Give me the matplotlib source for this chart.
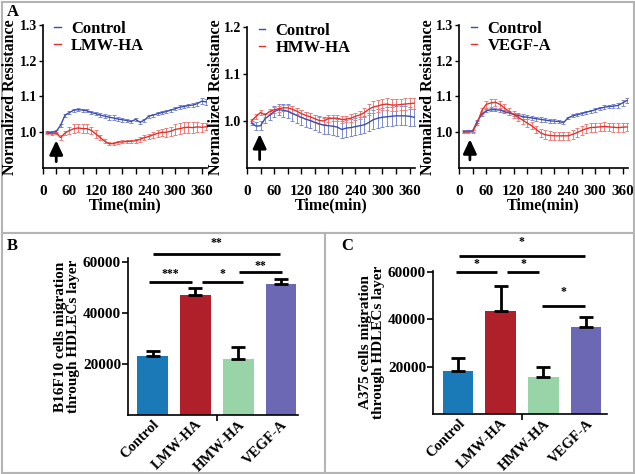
import matplotlib
matplotlib.use("Agg")
import matplotlib.pyplot as plt
from matplotlib.lines import Line2D
from matplotlib.ticker import MultipleLocator, FixedLocator

plt.rcParams['font.family'] = ['Liberation Serif', 'DejaVu Serif']
plt.rcParams['font.weight'] = 'bold'
plt.rcParams['axes.labelweight'] = 'bold'

# time course (min)
t = list(range(10, 371, 10))

ctrl1 = [1.000, 1.000, 1.002, 1.020, 1.048, 1.055, 1.062, 1.063, 1.062, 1.060,
         1.055, 1.052, 1.048, 1.045, 1.042, 1.040, 1.037, 1.035, 1.033, 1.030,
         1.036, 1.028, 1.034, 1.045, 1.048, 1.052, 1.055, 1.058, 1.062, 1.066,
         1.070, 1.072, 1.075, 1.076, 1.080, 1.087, 1.085]
ctrl1_err = [0.003, 0.003, 0.003, 0.004, 0.004, 0.004, 0.004, 0.004, 0.004, 0.004,
             0.005, 0.005, 0.006, 0.006, 0.007, 0.007, 0.006, 0.006, 0.005, 0.005,
             0.005, 0.004, 0.004, 0.004, 0.004, 0.004, 0.004, 0.004, 0.004, 0.005,
             0.005, 0.005, 0.005, 0.005, 0.006, 0.008, 0.008]
lmw = [0.998, 0.995, 0.998, 0.985, 0.998, 1.005, 1.010, 1.012, 1.010, 1.010,
       1.005, 0.995, 0.985, 0.975, 0.968, 0.968, 0.972, 0.973, 0.974, 0.975,
       0.976, 0.980, 0.985, 0.988, 0.993, 0.997, 1.000, 1.000, 1.003, 1.008,
       1.010, 1.013, 1.014, 1.013, 1.015, 1.014, 1.015]
lmw_err = [0.004, 0.004, 0.004, 0.006, 0.006, 0.010, 0.012, 0.012, 0.012, 0.012,
           0.010, 0.010, 0.008, 0.006, 0.005, 0.005, 0.004, 0.004, 0.004, 0.004,
           0.005, 0.006, 0.007, 0.008, 0.008, 0.009, 0.010, 0.012, 0.013, 0.015,
           0.015, 0.016, 0.016, 0.015, 0.015, 0.012, 0.010]

ctrl2 = [0.996, 0.989, 0.990, 1.005, 1.012, 1.020, 1.024, 1.023, 1.021, 1.016,
         1.012, 1.008, 1.004, 1.001, 0.997, 0.994, 0.991, 0.990, 0.989, 0.987,
         0.982, 0.985, 0.986, 0.988, 0.990, 0.992, 0.997, 1.003, 1.006, 1.008,
         1.009, 1.010, 1.011, 1.011, 1.011, 1.010, 1.008]
ctrl2_err = [0.005, 0.008, 0.010, 0.010, 0.010, 0.012, 0.012, 0.014, 0.015, 0.015,
             0.016, 0.016, 0.016, 0.016, 0.016, 0.017, 0.018, 0.018, 0.018, 0.018,
             0.018, 0.018, 0.018, 0.018, 0.018, 0.018, 0.019, 0.020, 0.020, 0.020,
             0.020, 0.020, 0.020, 0.020, 0.020, 0.020, 0.018]
hmw = [1.000, 1.010, 1.018, 1.013, 1.020, 1.024, 1.026, 1.028, 1.028, 1.025,
       1.021, 1.016, 1.012, 1.009, 1.005, 1.001, 1.000, 1.005, 1.006, 1.006,
       1.003, 1.004, 1.006, 1.010, 1.013, 1.018, 1.025, 1.030, 1.032, 1.035,
       1.036, 1.034, 1.034, 1.035, 1.036, 1.037, 1.038]
hmw_err = [0.004, 0.005, 0.005, 0.005, 0.006, 0.006, 0.006, 0.007, 0.007, 0.007,
           0.007, 0.007, 0.007, 0.007, 0.007, 0.007, 0.007, 0.007, 0.007, 0.007,
           0.007, 0.007, 0.008, 0.008, 0.009, 0.010, 0.012, 0.012, 0.012, 0.012,
           0.012, 0.012, 0.012, 0.012, 0.012, 0.012, 0.012]

ctrl3 = [1.002, 1.003, 1.004, 1.030, 1.050, 1.060, 1.063, 1.063, 1.062, 1.058,
         1.054, 1.050, 1.047, 1.044, 1.042, 1.040, 1.038, 1.036, 1.034, 1.032,
         1.031, 1.030, 1.027, 1.040, 1.046, 1.049, 1.052, 1.056, 1.059, 1.063,
         1.067, 1.070, 1.072, 1.073, 1.075, 1.082, 1.089]
ctrl3_err = [0.003, 0.003, 0.003, 0.004, 0.004, 0.004, 0.004, 0.004, 0.004, 0.005,
             0.005, 0.005, 0.006, 0.006, 0.006, 0.006, 0.006, 0.006, 0.005, 0.005,
             0.005, 0.004, 0.004, 0.004, 0.004, 0.004, 0.004, 0.004, 0.004, 0.005,
             0.005, 0.005, 0.005, 0.005, 0.006, 0.008, 0.008]
vegf = [1.000, 1.001, 1.002, 1.025, 1.060, 1.078, 1.082, 1.084, 1.078, 1.068,
        1.058, 1.050, 1.042, 1.034, 1.026, 1.018, 1.008, 0.998, 0.993, 0.991,
        0.990, 0.990, 0.990, 0.990, 0.994, 0.999, 1.005, 1.010, 1.013, 1.014,
        1.015, 1.016, 1.015, 1.014, 1.013, 1.014, 1.015]
vegf_err = [0.003, 0.003, 0.003, 0.006, 0.008, 0.010, 0.010, 0.010, 0.010, 0.010,
            0.010, 0.010, 0.010, 0.010, 0.010, 0.010, 0.010, 0.012, 0.012, 0.012,
            0.012, 0.012, 0.012, 0.012, 0.012, 0.012, 0.012, 0.012, 0.012, 0.012,
            0.012, 0.012, 0.012, 0.012, 0.012, 0.012, 0.012]

# migration assays
groups = ['Control', 'LMW-HA', 'HMW-HA', 'VEGF-A']
b16 = [23000, 47000, 22000, 51500]
b16_err = [2000, 3000, 4600, 2000]
a375 = [18000, 43500, 15600, 36700]
a375_err = [5700, 10700, 4300, 4300]

BLUE = '#3b4cb4'
RED = '#e4302c'
BLUE_E = '#7d8ad0'
RED_E = '#f07c78'
bar_colors = ['#1a7ab8', '#b0202a', '#98d4a8', '#6c68b4']

W, H = 635, 474
fig = plt.figure(figsize=(W / 100, H / 100), dpi=100)


def px_axes(l, t_, r, b):
    return fig.add_axes([l / W, 1 - b / H, (r - l) / W, (b - t_) / H])


def style(ax):
    for s in ['top', 'right']:
        ax.spines[s].set_visible(False)
    for s in ['left', 'bottom']:
        ax.spines[s].set_linewidth(1.2)


# axes, series, arrow (time, tip, tail), y-label x position
panels = [
    (px_axes(43, 25, 207, 168), ctrl1, ctrl1_err, lmw, lmw_err, 'LMW-HA', 1.3,
     (30, 0.985, 0.910), 10),
    (px_axes(247, 27, 415, 168), ctrl2, ctrl2_err, hmw, hmw_err, 'HMW-HA', 1.2,
     (28, 0.978, 0.912), 216),
    (px_axes(459, 25, 628, 168), ctrl3, ctrl3_err, vegf, vegf_err, 'VEGF-A', 1.3,
     (24, 0.988, 0.915), 428),
]

for ax, c, ce, tr, tre, name, ytop, arr, ylab_x in panels:
    style(ax)
    ax.errorbar(t, c, yerr=ce, color=BLUE, ecolor=BLUE_E, lw=1, elinewidth=0.7,
                capsize=1.2, capthick=0.7)
    ax.errorbar(t, tr, yerr=tre, color=RED, ecolor=RED_E, lw=1, elinewidth=0.7,
                capsize=1.2, capthick=0.7)
    ax.set_xlim(0, 372)
    ax.set_ylim(0.9, ytop)
    ax.set_yticks([1.0, 1.1, 1.2, 1.3][:int(round((ytop - 1.0) * 10)) + 1])
    ax.yaxis.set_major_formatter(matplotlib.ticker.FormatStrFormatter('%.1f'))
    ax.xaxis.set_major_locator(FixedLocator([0, 60, 120, 180, 240, 300, 360]))
    ax.xaxis.set_minor_locator(MultipleLocator(30))
    ax.tick_params(axis='x', which='both', direction='out', length=4, width=1,
                   labelsize=11, pad=8)
    ax.tick_params(axis='y', direction='out', length=3, width=1, labelsize=10, pad=1)
    ax.set_xlabel('Time(min)', fontsize=11.5, labelpad=0)
    ax.annotate('', xy=(arr[0], arr[1]), xytext=(arr[0], arr[2]),
                arrowprops=dict(arrowstyle='-|>,head_width=0.4,head_length=0.85',
                                lw=2, color='black'))
    handles = [Line2D([0], [0], color=BLUE, lw=1), Line2D([0], [0], color=RED, lw=1)]
    ax.legend(handles, ['Control', name], loc='upper left', bbox_to_anchor=(0.07, 1.03),
              frameon=False, fontsize=12, handlelength=0.4, handletextpad=0.6,
              labelspacing=0.05, borderpad=0, borderaxespad=0)
    fig.text(ylab_x / W, 1 - 97 / H, 'Normalized Resistance', rotation=90,
             ha='center', va='center', fontsize=11.5, fontweight='bold')


def bar_panel(ax, vals, errs, ytop, brackets):
    style(ax)
    x = list(range(len(groups)))
    ax.bar(x, vals, width=0.72, color=bar_colors, zorder=2)
    ax.errorbar(x, vals, yerr=[[0] * len(errs), errs], fmt='none', ecolor='black',
                elinewidth=2, capsize=5, capthick=2, zorder=3)
    ax.set_xlim(-0.58, 3.4)
    ax.set_ylim(0, ytop)
    ax.set_yticks([20000, 40000, 60000])
    ax.set_xticks(x)
    ax.set_xticklabels(groups, rotation=45, ha='right', rotation_mode='anchor',
                       fontsize=10.5)
    ax.tick_params(axis='x', which='major', length=0, pad=2)
    ax.xaxis.set_minor_locator(FixedLocator([1.5]))
    ax.tick_params(axis='x', which='minor', length=4, width=1.2, direction='out')
    ax.tick_params(axis='y', direction='out', length=4, width=1.2, labelsize=11, pad=1)
    for x0, x1, y, lab, ys in brackets:
        ax.plot([x0, x1], [y, y], color='black', lw=2, clip_on=False, solid_capstyle='butt')
        ax.text((x0 + x1) / 2, ys, lab, ha='center', va='center', fontsize=8.5)


ax_b = px_axes(128, 258, 298, 415)
bar_panel(ax_b, b16, b16_err, 61600, [
    (0.0, 2.98, 63100, '**', 67500),
    (-0.09, 0.91, 52300, '***', 55300),
    (1.16, 2.12, 52300, '*', 55300),
    (2.02, 3.02, 56100, '**', 58600),
])
ax_b.set_ylabel('B16F10 cells migration\nthrough HDLECs layer', fontsize=11,
                linespacing=1.0, labelpad=2)

ax_c = px_axes(433, 271, 607, 414)
bar_panel(ax_c, a375, a375_err, 60500, [
    (0.02, 2.97, 66900, '*', 72800),
    (-0.05, 0.91, 60000, '*', 63300),
    (1.15, 1.90, 60000, '*', 63300),
    (1.97, 2.97, 45500, '*', 51600),
])
ax_c.set_xlim(-0.585, 3.49)
ax_c.set_ylabel('A375 cells migration\nthrough HDLECs layer', fontsize=11,
                linespacing=1.0, labelpad=2)

# panel letters
fig.text(7 / W, 1 - 12 / H, 'A', fontsize=12, fontweight='bold', va='center')
fig.text(7 / W, 1 - 246 / H, 'B', fontsize=12, fontweight='bold', va='center')
fig.text(341 / W, 1 - 246 / H, 'C', fontsize=12, fontweight='bold', va='center')

# frame lines
gray = '#b4b4b4'
for xs, ys in [([1.5, 633.5], [1.5, 1.5]), ([1.5, 633.5], [472.5, 472.5]),
               ([1.5, 1.5], [1.5, 472.5]), ([633.5, 633.5], [1.5, 472.5]),
               ([1.5, 633.5], [233, 233]), ([325, 325], [233, 472.5])]:
    fig.add_artist(Line2D([v / W for v in xs], [1 - v / H for v in ys],
                          color=gray, lw=1.5))

fig.savefig('out.png', dpi=100)
